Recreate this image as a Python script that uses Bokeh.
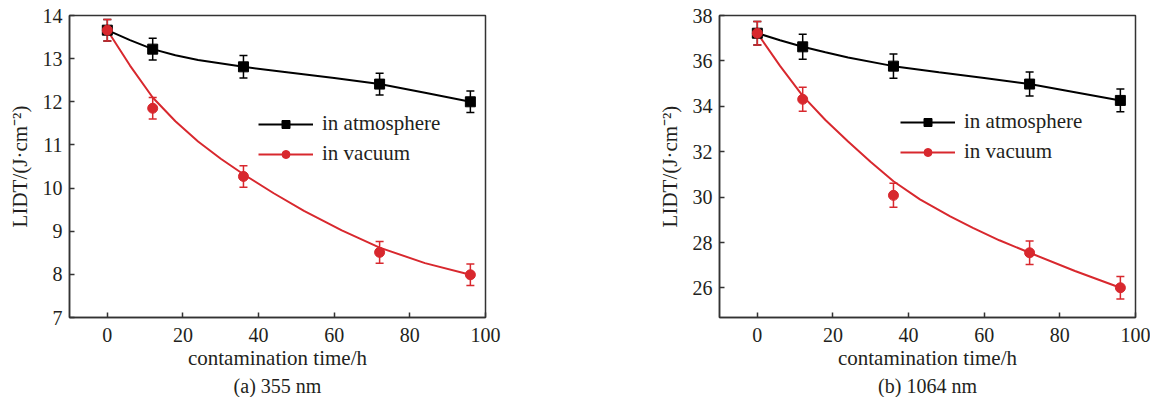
from bokeh.plotting import figure
from bokeh.layouts import row
from bokeh.models import (ColumnDataSource, Whisker, TeeHead, FixedTicker, Legend,
                          LegendItem, Range1d, Title)
from bokeh.embed import file_html
from bokeh.resources import INLINE

# ---- data ----
time_h = [0, 12, 36, 72, 96]

# (a) 355 nm
atm_355 = [13.66, 13.22, 12.81, 12.41, 12.00]
vac_355 = [13.66, 11.85, 10.27, 8.51, 7.99]
err_atm_355 = [0.25, 0.25, 0.26, 0.25, 0.25]
err_vac_355 = [0.25, 0.25, 0.25, 0.25, 0.25]
fit_x_atm = [0, 6, 12, 18, 24, 36, 48, 60, 72, 84, 96]
fit_atm_355 = [13.66, 13.43, 13.22, 13.08, 12.97, 12.81, 12.68, 12.55, 12.41, 12.21, 12.00]
fit_x_vac_355 = [0, 6, 12, 18, 24, 30, 36, 44, 52, 62, 72, 84, 96]
fit_vac_355 = [13.66, 12.84, 12.10, 11.55, 11.08, 10.68, 10.32, 9.88, 9.47, 9.02, 8.62, 8.26, 7.99]

# (b) 1064 nm
atm_1064 = [37.22, 36.62, 35.77, 34.98, 34.26]
vac_1064 = [37.22, 34.31, 30.08, 27.55, 26.01]
err_atm_1064 = [0.52, 0.55, 0.53, 0.53, 0.50]
err_vac_1064 = [0.52, 0.53, 0.53, 0.52, 0.50]
fit_atm_1064 = [37.22, 36.91, 36.62, 36.38, 36.15, 35.77, 35.50, 35.25, 34.98, 34.62, 34.26]
fit_x_vac_1064 = [0, 6, 12, 18, 24, 30, 36, 43, 51, 57, 64, 72, 84, 96]
fit_vac_1064 = [37.22, 35.78, 34.46, 33.40, 32.45, 31.55, 30.70, 29.90, 29.15, 28.65, 28.10, 27.55, 26.75, 26.01]

x_ticks = [0, 20, 40, 60, 80, 100]
y_ticks_355 = [7, 8, 9, 10, 11, 12, 13, 14]
y_ticks_1064 = [26, 28, 30, 32, 34, 36, 38]

labels = ["in atmosphere", "in vacuum"]
captions = ["(a) 355 nm", "(b) 1064 nm"]
x_label = "contamination time/h"
y_label = "LIDT/(J·cm⁻²)"

BLACK = "#000000"
RED = "#d8282e"
AX = "#333333"
TXT = "#231f20"
FONT = "Liberation Serif"


def panel(atm, vac, err_a, err_v, fxa, fa, fxv, fv, yr, yticks, caption,
          width, bl, br, leg_loc):
    p = figure(width=width, height=397, x_range=Range1d(-10, 100), y_range=Range1d(*yr),
               output_backend="svg", toolbar_location=None,
               min_border_left=bl, min_border_right=br, min_border_top=15,
               min_border_bottom=80)
    p.grid.visible = False
    p.outline_line_color = AX
    p.outline_line_width = 1.5
    p.outline_line_alpha = 1
    p.background_fill_color = "white"
    p.border_fill_color = "white"

    p.xaxis.ticker = FixedTicker(ticks=x_ticks)
    p.yaxis.ticker = FixedTicker(ticks=yticks)
    for ax in (p.xaxis[0], p.yaxis[0]):
        ax.axis_line_color = AX
        ax.axis_line_width = 1.5
        ax.major_tick_line_color = AX
        ax.major_tick_line_width = 1.5
        ax.major_tick_in = 5
        ax.major_tick_out = 0
        ax.minor_tick_line_color = None
        ax.major_label_text_font = FONT
        ax.major_label_text_font_size = "20px"
        ax.major_label_text_color = TXT
        ax.axis_label_text_font = FONT
        ax.axis_label_text_font_size = "21px"
        ax.axis_label_text_font_style = "normal"
        ax.axis_label_text_color = TXT
    p.xaxis.axis_label = x_label
    p.yaxis.axis_label = y_label
    p.xaxis.major_label_standoff = 10
    p.xaxis.axis_label_standoff = 1
    p.yaxis.major_label_standoff = 7
    p.yaxis.axis_label_standoff = 8

    # fitted curves
    la = p.line(fxa, fa, line_color=BLACK, line_width=2)
    lv = p.line(fxv, fv, line_color=RED, line_width=2)

    # error bars
    src_a = ColumnDataSource(dict(x=time_h, y=atm,
                                  upper=[v + e for v, e in zip(atm, err_a)],
                                  lower=[v - e for v, e in zip(atm, err_a)]))
    src_v = ColumnDataSource(dict(x=time_h, y=vac,
                                  upper=[v + e for v, e in zip(vac, err_v)],
                                  lower=[v - e for v, e in zip(vac, err_v)]))
    for src, c in ((src_a, BLACK), (src_v, RED)):
        w = Whisker(source=src, base="x", upper="upper", lower="lower",
                    line_color=c, line_width=1.5,
                    upper_head=TeeHead(size=8, line_color=c, line_width=1.5),
                    lower_head=TeeHead(size=8, line_color=c, line_width=1.5))
        p.add_layout(w)

    sa = p.scatter("x", "y", source=src_a, marker="square", size=10,
                   fill_color=BLACK, line_color=BLACK)
    sv = p.scatter("x", "y", source=src_v, marker="circle", size=10,
                   fill_color=RED, line_color=RED)

    legend = Legend(items=[LegendItem(label=labels[0], renderers=[la, sa]),
                           LegendItem(label=labels[1], renderers=[lv, sv])],
                    location=leg_loc, border_line_color=None,
                    background_fill_alpha=0, padding=0, margin=0, spacing=5,
                    glyph_width=55, glyph_height=20, label_height=20,
                    label_standoff=9, label_text_font=FONT,
                    label_text_font_size="21px", label_text_color=TXT)
    p.add_layout(legend)

    p.add_layout(Title(text=caption, align="center", text_font=FONT,
                       text_font_size="20px", text_font_style="normal",
                       text_color=TXT, standoff=0), "below")
    return p


p1 = panel(atm_355, vac_355, err_atm_355, err_vac_355, fit_x_atm, fit_atm_355,
           fit_x_vac_355, fit_vac_355, (7, 14), y_ticks_355, captions[0],
           579, 69, 94, (189, 151))
p2 = panel(atm_1064, vac_1064, err_atm_1064, err_vac_1064, fit_x_atm, fit_atm_1064,
           fit_x_vac_1064, fit_vac_1064, (24.7, 38), y_ticks_1064, captions[1],
           571, 140, 15, (181, 153))

layout = row(p1, p2, spacing=0)
open("out.html", "w").write(file_html(layout, INLINE))
